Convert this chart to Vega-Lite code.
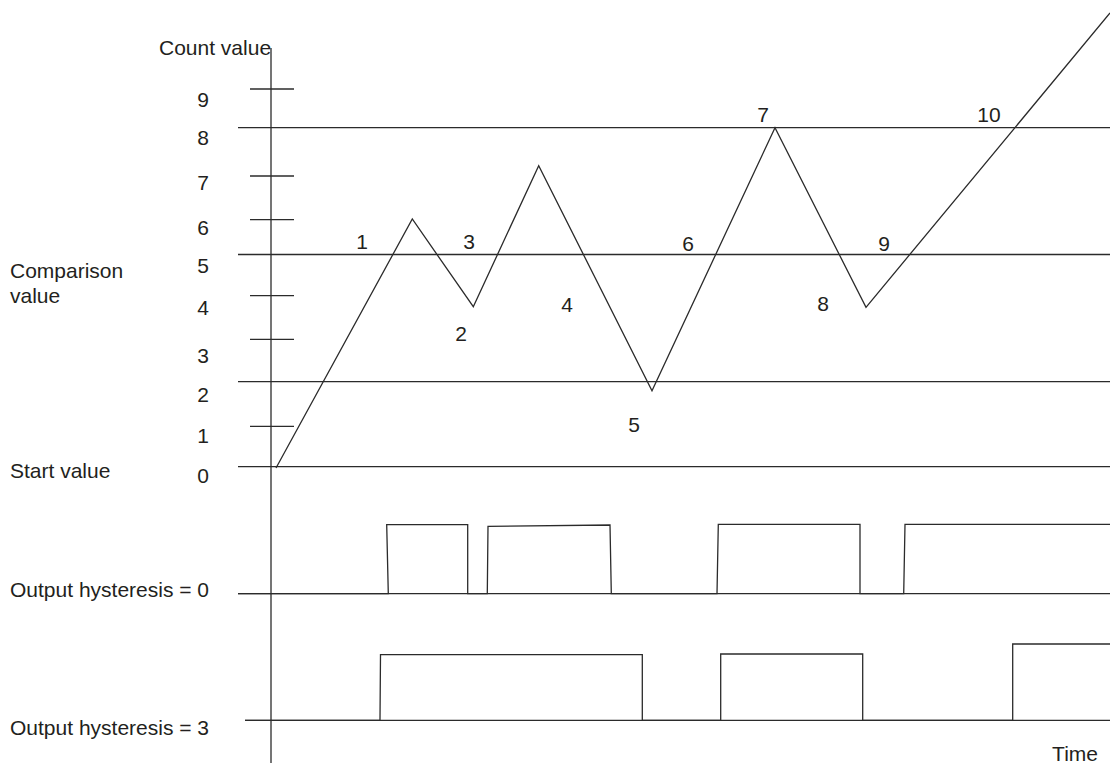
{
  "$schema": "https://vega.github.io/schema/vega-lite/v6.json",
  "width": 1110,
  "height": 767,
  "autosize": {"type": "none"},
  "padding": 0,
  "background": "white",
  "config": {"view": {"stroke": null}},
  "datasets": {
    "segs": [
      {"x1": 238, "y1": 127.7, "x2": 1110, "y2": 127.7},
      {"x1": 238, "y1": 254.5, "x2": 1110, "y2": 254.5},
      {"x1": 238, "y1": 381.7, "x2": 1110, "y2": 381.7},
      {"x1": 238, "y1": 466.7, "x2": 1110, "y2": 466.7},
      {"x1": 271, "y1": 48, "x2": 271, "y2": 763},
      {"x1": 250, "y1": 89, "x2": 294, "y2": 89},
      {"x1": 250, "y1": 176, "x2": 294, "y2": 176},
      {"x1": 250, "y1": 219.7, "x2": 294, "y2": 219.7},
      {"x1": 250, "y1": 295.7, "x2": 294, "y2": 295.7},
      {"x1": 250, "y1": 339.3, "x2": 294, "y2": 339.3},
      {"x1": 250, "y1": 426.3, "x2": 294, "y2": 426.3},
      {"x1": 238, "y1": 593.7, "x2": 1110, "y2": 593.7},
      {"x1": 245, "y1": 720.3, "x2": 1110, "y2": 720.3}
    ],
    "paths": [
      {"g": "count", "i": 0, "x": 276, "y": 468},
      {"g": "count", "i": 1, "x": 412.3, "y": 219},
      {"g": "count", "i": 2, "x": 473.3, "y": 306.7},
      {"g": "count", "i": 3, "x": 538.7, "y": 165.7},
      {"g": "count", "i": 4, "x": 652, "y": 390.7},
      {"g": "count", "i": 5, "x": 775, "y": 127.7},
      {"g": "count", "i": 6, "x": 866, "y": 307.3},
      {"g": "count", "i": 7, "x": 1110, "y": 13},
      {"g": "h0", "i": 0, "x": 238, "y": 593.7},
      {"g": "h0", "i": 1, "x": 388.3, "y": 593.7},
      {"g": "h0", "i": 2, "x": 386.7, "y": 524.7},
      {"g": "h0", "i": 3, "x": 467.7, "y": 524.7},
      {"g": "h0", "i": 4, "x": 467.7, "y": 593.7},
      {"g": "h0", "i": 5, "x": 487.3, "y": 593.7},
      {"g": "h0", "i": 6, "x": 488, "y": 526.3},
      {"g": "h0", "i": 7, "x": 610, "y": 525},
      {"g": "h0", "i": 8, "x": 611.3, "y": 593.7},
      {"g": "h0", "i": 9, "x": 717, "y": 593.7},
      {"g": "h0", "i": 10, "x": 718.3, "y": 524.3},
      {"g": "h0", "i": 11, "x": 860, "y": 524.3},
      {"g": "h0", "i": 12, "x": 860, "y": 593.7},
      {"g": "h0", "i": 13, "x": 903.7, "y": 593.7},
      {"g": "h0", "i": 14, "x": 905, "y": 524.3},
      {"g": "h0", "i": 15, "x": 1110, "y": 524.3},
      {"g": "h3", "i": 0, "x": 245, "y": 720.3},
      {"g": "h3", "i": 1, "x": 380, "y": 720.3},
      {"g": "h3", "i": 2, "x": 380.5, "y": 654.7},
      {"g": "h3", "i": 3, "x": 642.3, "y": 654.7},
      {"g": "h3", "i": 4, "x": 642.3, "y": 720.3},
      {"g": "h3", "i": 5, "x": 720.7, "y": 720.3},
      {"g": "h3", "i": 6, "x": 720.7, "y": 654},
      {"g": "h3", "i": 7, "x": 862.7, "y": 654},
      {"g": "h3", "i": 8, "x": 862.7, "y": 720.3},
      {"g": "h3", "i": 9, "x": 1012.7, "y": 720.3},
      {"g": "h3", "i": 10, "x": 1012.7, "y": 644},
      {"g": "h3", "i": 11, "x": 1110, "y": 644}
    ],
    "leftText": [
      {"x": 159, "y": 55, "t": "Count value"},
      {"x": 10, "y": 278, "t": "Comparison"},
      {"x": 10, "y": 303, "t": "value"},
      {"x": 10, "y": 478, "t": "Start value"},
      {"x": 10, "y": 597, "t": "Output hysteresis = 0"},
      {"x": 10, "y": 735, "t": "Output hysteresis = 3"}
    ],
    "rightText": [
      {"x": 1098, "y": 761, "t": "Time"}
    ],
    "centerText": [
      {"x": 203, "y": 107, "t": "9"},
      {"x": 203, "y": 145, "t": "8"},
      {"x": 203, "y": 190, "t": "7"},
      {"x": 203, "y": 235, "t": "6"},
      {"x": 203, "y": 273, "t": "5"},
      {"x": 203, "y": 315, "t": "4"},
      {"x": 203, "y": 363, "t": "3"},
      {"x": 203, "y": 402, "t": "2"},
      {"x": 203, "y": 443, "t": "1"},
      {"x": 203, "y": 483, "t": "0"},
      {"x": 362, "y": 249, "t": "1"},
      {"x": 461, "y": 341, "t": "2"},
      {"x": 469, "y": 249, "t": "3"},
      {"x": 567, "y": 312, "t": "4"},
      {"x": 634, "y": 432, "t": "5"},
      {"x": 688, "y": 251, "t": "6"},
      {"x": 763, "y": 122, "t": "7"},
      {"x": 823, "y": 311, "t": "8"},
      {"x": 884, "y": 251, "t": "9"},
      {"x": 989, "y": 122, "t": "10"}
    ]
  },
  "layer": [
    {
      "data": {"name": "segs"},
      "mark": {"type": "rule", "stroke": "#2b2b2b", "strokeWidth": 1.3},
      "encoding": {
        "x": {"field": "x1", "type": "quantitative", "scale": {"domain": [0, 1110], "nice": false, "zero": false}, "axis": null},
        "y": {"field": "y1", "type": "quantitative", "scale": {"domain": [0, 767], "reverse": true, "nice": false, "zero": false}, "axis": null},
        "x2": {"field": "x2"},
        "y2": {"field": "y2"}
      }
    },
    {
      "data": {"name": "paths"},
      "mark": {"type": "line", "stroke": "#2b2b2b", "strokeWidth": 1.3, "strokeJoin": "miter"},
      "encoding": {
        "x": {"field": "x", "type": "quantitative", "axis": null},
        "y": {"field": "y", "type": "quantitative", "axis": null},
        "detail": {"field": "g"},
        "order": {"field": "i", "type": "quantitative"}
      }
    },
    {
      "data": {"name": "leftText"},
      "mark": {"type": "text", "align": "left", "baseline": "alphabetic", "font": "Liberation Sans", "fontSize": 21, "fill": "#231f20"},
      "encoding": {
        "x": {"field": "x", "type": "quantitative", "axis": null},
        "y": {"field": "y", "type": "quantitative", "axis": null},
        "text": {"field": "t"}
      }
    },
    {
      "data": {"name": "rightText"},
      "mark": {"type": "text", "align": "right", "baseline": "alphabetic", "font": "Liberation Sans", "fontSize": 21, "fill": "#231f20"},
      "encoding": {
        "x": {"field": "x", "type": "quantitative", "axis": null},
        "y": {"field": "y", "type": "quantitative", "axis": null},
        "text": {"field": "t"}
      }
    },
    {
      "data": {"name": "centerText"},
      "mark": {"type": "text", "align": "center", "baseline": "alphabetic", "font": "Liberation Sans", "fontSize": 21, "fill": "#231f20"},
      "encoding": {
        "x": {"field": "x", "type": "quantitative", "axis": null},
        "y": {"field": "y", "type": "quantitative", "axis": null},
        "text": {"field": "t"}
      }
    }
  ]
}
